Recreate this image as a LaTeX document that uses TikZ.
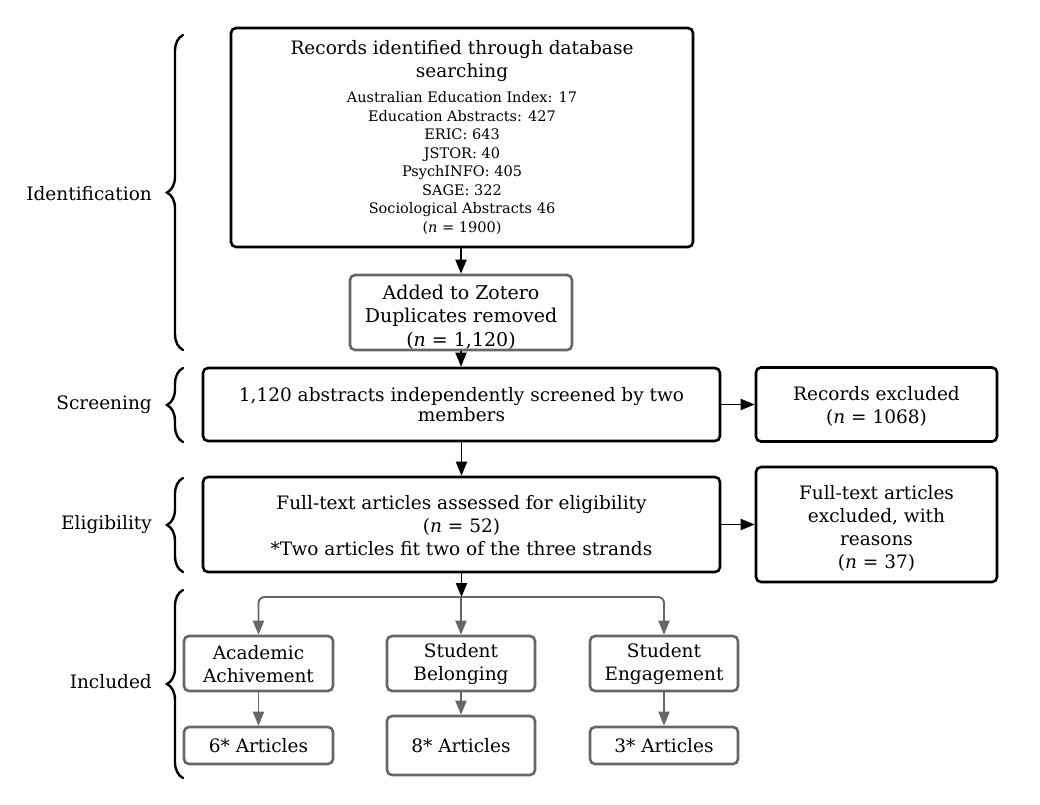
\documentclass[tikz,border=0pt]{standalone}
\usepackage{fontspec}
\setmainfont{DejaVu Serif}
\usetikzlibrary{arrows.meta,decorations.pathreplacing}
\definecolor{boxgray}{HTML}{666666}
\newcommand{\smallsz}{\fontsize{14.5}{18.5}\selectfont}
\tikzset{
  mainbox/.style={draw=black, line width=2.6pt, rounded corners=5pt, fill=white, align=center, inner sep=0pt,
    font=\fontsize{18.5}{23}\selectfont},
  graybox/.style={draw=boxgray, line width=2.6pt, rounded corners=5pt, fill=white, align=center, inner sep=0pt,
    font=\fontsize{18.5}{23}\selectfont},
  blackarrow/.style={draw=black, line width=1.9pt, -{Triangle[length=14pt,width=11pt]}},
  grayarrow/.style={draw=boxgray, line width=1.9pt, -{Triangle[length=14pt,width=11pt]}},
  phasebrace/.style={draw=black, line width=2.4pt, line cap=round, decorate, decoration={brace, amplitude=16pt}},
  phaselabel/.style={anchor=east, inner sep=0pt, font=\fontsize{18.5}{23}\selectfont}
}
\begin{document}
\begin{tikzpicture}[x=1pt,y=-1pt]
\fill[white] (0,0) rectangle (1040,804);
\useasboundingbox (0,0) rectangle (1040,804);

% boxes
\node[mainbox, minimum width=462pt, minimum height=219pt] (rec) at (462,137.5)
  {\rule{0pt}{18pt}Records identified through database\\searching\\[2pt]
   \smallsz\begin{tabular}[t]{@{}c@{}}Australian Education Index: 17\\Education Abstracts: 427\\ERIC: 643\\JSTOR: 40\\PsychINFO: 405\\SAGE: 322\\Sociological Abstracts 46\\(\textit{n} = 1900)\end{tabular}};
\node[graybox, minimum width=222pt, minimum height=75pt, font=\fontsize{19}{23.5}\selectfont] (zot) at (461,312.5)
  {\rule{0pt}{23pt}Added to Zotero\\Duplicates removed\\(\textit{n} = 1,120)};
\node[mainbox, minimum width=517pt, minimum height=73pt, font=\fontsize{18.5}{20}\selectfont] (scr) at (461.5,404.5)
  {1,120 abstracts independently screened by two\\members};
\node[mainbox, minimum width=241pt, minimum height=74pt] (exc) at (876.5,404.5)
  {\rule{0pt}{17pt}Records excluded\\(\textit{n} = 1068)};
\node[mainbox, minimum width=517pt, minimum height=95pt] (eli) at (461.5,524.5)
  {\rule{0pt}{17pt}Full-text articles assessed for eligibility\\(\textit{n} = 52)\\*Two articles fit two of the three strands};
\node[mainbox, minimum width=241pt, minimum height=115pt] (ftx) at (876.5,524.5)
  {\rule{0pt}{22pt}Full-text articles\\excluded, with\\reasons\\(\textit{n} = 37)};

\node[graybox, minimum width=149pt, minimum height=55pt] (aca) at (258.5,663.5)
  {\rule{0pt}{16pt}Academic\\Achivement};
\node[graybox, minimum width=148pt, minimum height=55pt] (bel) at (461,663.5)
  {\rule{0pt}{16pt}Student\\Belonging};
\node[graybox, minimum width=148pt, minimum height=55pt] (eng) at (664,663.5)
  {\rule{0pt}{16pt}Student\\Engagement};
\node[graybox, minimum width=149pt, minimum height=37pt] (a6) at (258.5,745.5) {6* Articles};
\node[graybox, minimum width=148pt, minimum height=59pt] (a8) at (461,745.5) {8* Articles};
\node[graybox, minimum width=148pt, minimum height=37pt] (a3) at (664,745.5) {3* Articles};

% connectors
\coordinate (split) at (461.5,597);
\draw[blackarrow] (rec.south -| zot) -- (zot.north);
\draw[blackarrow] (zot.south) -- (zot.south |- scr.north);
\draw[blackarrow] (scr.south) -- (scr.south |- eli.north);
\draw[blackarrow] (scr.east) -- (scr.east -| exc.west);
\draw[blackarrow] (eli.east) -- (eli.east -| ftx.west);
\draw[grayarrow, rounded corners=6pt] (split) -| (aca.north);
\draw[grayarrow, rounded corners=6pt] (split) -| (eng.north);
\draw[grayarrow] (split -| bel.north) -- (bel.north);
\draw[blackarrow] (eli.south) -- (split);
\draw[grayarrow] (aca.south) -- (a6.north);
\draw[grayarrow] (bel.south) -- (a8.north);
\draw[grayarrow] (eng.south) -- (a3.north);

% phase braces
\coordinate (b1s) at (183,350); \coordinate (b1e) at (183,35);
\coordinate (b2s) at (183,442); \coordinate (b2e) at (183,368);
\coordinate (b3s) at (183,572); \coordinate (b3e) at (183,478);
\coordinate (b4s) at (183,778); \coordinate (b4e) at (183,590);
\draw[phasebrace] (b1s) -- (b1e);
\draw[phasebrace] (b2s) -- (b2e);
\draw[phasebrace] (b3s) -- (b3e);
\draw[phasebrace] (b4s) -- (b4e);
\node[phaselabel] (lid) at (152,194) {Identification};
\node[phaselabel] (lsc) at (152,405) {Screening};
\node[phaselabel] (lel) at (152,525) {Eligibility};
\node[phaselabel] (lin) at (152,682) {Included};
\end{tikzpicture}
\end{document}
